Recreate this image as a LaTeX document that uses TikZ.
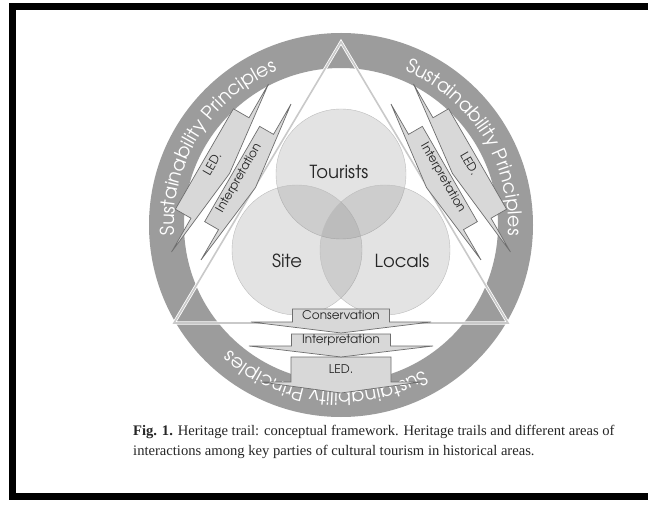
\documentclass[tikz,border=0pt]{standalone}
\usepackage{fontspec}
\setmainfont{Liberation Serif}
\newfontfamily\gothic{TeX Gyre Adventor}
\usetikzlibrary{decorations.text}
\definecolor{colorring}{HTML}{9C9C9C}
\definecolor{colorvenn}{HTML}{BDBDBD}
\definecolor{colorbox}{HTML}{D8D8D8}
\definecolor{colorboxline}{HTML}{6E6E6E}
\definecolor{colortri}{HTML}{C9C9C9}
\tikzset{
  venn/.style={circle, draw=colorvenn, fill=gray, fill opacity=0.22, minimum size=130pt, inner sep=0pt},
  vennlabel/.style={font=\gothic\fontsize{18}{18}\selectfont, text=black!85},
  arrowbox/.style={fill=colorbox, draw=colorboxline, line width=0.7pt},
  arrowtext/.style={font=\gothic\fontsize{12}{12}\selectfont, inner sep=0pt, text=black!85},
  triline/.style={draw=white, double=colortri, double distance=1.6pt, line width=0.8pt},
  ringtext/.style={decorate, decoration={text along path, text align=center, text color=white,
    text={|\gothic\fontsize{19}{19}\selectfont|Sustainability Principles}}}
}
% name, position, angle, box width, box height, wing span, label
\newcommand\trailarrow[7]{%
  \begin{scope}[shift={(#2)}, rotate=#3]
    \filldraw[arrowbox] (-#4/2,#5) -- (#4/2,#5) -- (#4/2,0) -- (#6,0) -- (0,-11)
      -- (-#6,0) -- (-#4/2,0) -- cycle;
    \node[arrowtext, transform shape] (#1) at (0,#5/2) {#7};
  \end{scope}}

\begin{document}
\begin{tikzpicture}[x=1pt, y=1pt]
\useasboundingbox (0,0) rectangle (648,504);
\clip (0,0) rectangle (648,504);
\fill[white] (0,0) rectangle (648,504);

\coordinate (ringc) at (341,279);
% outer ring with its three labels
\fill[colorring, even odd rule] (ringc) circle (192) (ringc) circle (157);
\path[ringtext] (ringc) ++(208:167) arc[start angle=208, end angle=88, radius=167];
\path[ringtext] (ringc) ++(92:167) arc[start angle=92, end angle=-28, radius=167];
\path[ringtext] (ringc) ++(-36:167) arc[start angle=-36, end angle=-156, radius=167];

% triangle
\coordinate (apex) at (341,462);
\coordinate (baseleft) at (174,181);
\coordinate (baseright) at (508,181);
\draw[triline] (apex) -- (baseleft) -- (baseright) -- cycle;

% parties
\node[venn] (tourists) at (341,330) {};
\node[venn] (site) at (297,254) {};
\node[venn] (locals) at (385,254) {};
\node[vennlabel] (touristslabel) at (339,332) {Tourists};
\node[vennlabel] (sitelabel) at (287,243) {Site};
\node[vennlabel] (localslabel) at (402,243) {Locals};

% interactions
\trailarrow{ledl}{220,336}{60}{116}{18}{97}{LED.}
\trailarrow{interpl}{246,322}{60}{110}{16}{90}{Interpretation}
\trailarrow{ledr}{462,336}{-60}{116}{18}{97}{LED.}
\trailarrow{interpr}{436,322}{-60}{110}{16}{90}{Interpretation}
\trailarrow{led}{341,122}{0}{100}{25}{80}{LED.}
\trailarrow{interp}{341,158}{0}{99}{12}{92}{Interpretation}
\trailarrow{cons}{341,182}{0}{97}{13}{90}{Conservation}

% caption and frame
\node[anchor=base west, align=left, inner sep=0pt, font=\fontsize{14.6}{20}\selectfont, text=black!85]
  (caption) at (133,49) {\textbf{Fig. 1.} Heritage trail: conceptual framework. Heritage trails and different areas of\\
  interactions among key parties of cultural tourism in historical areas.};
\draw[line width=7pt] (12.5,7.5) rectangle (680,497);
\end{tikzpicture}
\end{document}
